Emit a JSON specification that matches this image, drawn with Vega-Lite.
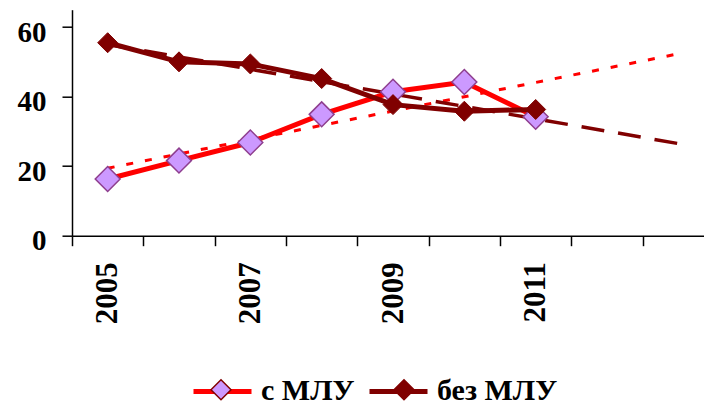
{
  "$schema": "https://vega.github.io/schema/vega-lite/v6.json",
  "width": 632,
  "height": 226,
  "autosize": "none",
  "padding": {"left": 72, "top": 9.7, "right": 0, "bottom": 167.3},
  "background": "white",
  "config": {
    "view": {"stroke": null},
    "font": "Liberation Serif"
  },
  "datasets": {
    "obs": [
      {"year": "2005", "series": "с МЛУ", "value": 16.3},
      {"year": "2006", "series": "с МЛУ", "value": 21.6},
      {"year": "2007", "series": "с МЛУ", "value": 26.8},
      {"year": "2008", "series": "с МЛУ", "value": 34.9},
      {"year": "2009", "series": "с МЛУ", "value": 41.4},
      {"year": "2010", "series": "с МЛУ", "value": 44.2},
      {"year": "2011", "series": "с МЛУ", "value": 34.2},
      {"year": "2005", "series": "без МЛУ", "value": 55.5},
      {"year": "2006", "series": "без МЛУ", "value": 50.0},
      {"year": "2007", "series": "без МЛУ", "value": 49.4},
      {"year": "2008", "series": "без МЛУ", "value": 45.2},
      {"year": "2009", "series": "без МЛУ", "value": 37.7},
      {"year": "2010", "series": "без МЛУ", "value": 35.8},
      {"year": "2011", "series": "без МЛУ", "value": 36.3}
    ],
    "trend": [
      {"year": "2005", "series": "с МЛУ", "value": 19.4},
      {"year": "2013", "series": "с МЛУ", "value": 52.3},
      {"year": "2005", "series": "без МЛУ", "value": 55.0},
      {"year": "2013", "series": "без МЛУ", "value": 26.5}
    ]
  },
  "encoding": {
    "x": {
      "field": "year",
      "type": "ordinal",
      "bandPosition": 0.5,
      "scale": {
        "type": "band",
        "domain": ["2005", "2006", "2007", "2008", "2009", "2010", "2011", "2012", "2013"],
        "paddingInner": 0,
        "paddingOuter": 0,
        "range": [0, 642]
      },
      "axis": {
        "title": null,
        "domainColor": "black",
        "domainWidth": 1.5,
        "tickColor": "black",
        "tickWidth": 1.5,
        "tickSize": 10,
        "tickBand": "extent",
        "labelAngle": 270,
        "labelFont": "Liberation Serif",
        "labelFontSize": 31,
        "labelFontWeight": "bold",
        "labelColor": "black",
        "labelPadding": 16,
        "labelExpr": "indexof(['2005','2007','2009','2011'], datum.label) >= 0 ? datum.label : ''"
      }
    },
    "y": {
      "field": "value",
      "type": "quantitative",
      "scale": {"domain": [0, 65], "nice": false},
      "axis": {
        "title": null,
        "values": [0, 20, 40, 60],
        "grid": false,
        "domainColor": "black",
        "domainWidth": 1.5,
        "tickColor": "black",
        "tickWidth": 1.5,
        "tickSize": 10,
        "labelFont": "Liberation Serif",
        "labelFontSize": 29,
        "labelFontWeight": "bold",
        "labelColor": "black",
        "labelPadding": 16,
        "labelOffset": 5
      }
    }
  },
  "layer": [
    {
      "data": {"name": "trend"},
      "transform": [{"filter": "datum.series === 'с МЛУ'"}],
      "mark": {"type": "line", "strokeWidth": 3, "strokeDash": [7, 12], "color": "#ff0000"},
      "encoding": {}
    },
    {
      "data": {"name": "trend"},
      "transform": [{"filter": "datum.series === 'без МЛУ'"}],
      "mark": {"type": "line", "strokeWidth": 3.5, "strokeDash": [23, 14], "color": "#800000"},
      "encoding": {}
    },
    {
      "data": {"name": "obs"},
      "mark": {"type": "line", "strokeWidth": 5},
      "encoding": {
        "stroke": {
          "field": "series",
          "type": "nominal",
          "scale": {"domain": ["с МЛУ", "без МЛУ"], "range": ["#ff0000", "#800000"]},
          "legend": {
            "title": null,
            "orient": "none",
            "direction": "horizontal",
            "legendX": 119,
            "legendY": 350,
            "padding": 0,
            "symbolType": "stroke",
            "symbolSize": 3364,
            "symbolStrokeWidth": 5,
            "labelFont": "Liberation Serif",
            "labelFontSize": 30,
            "labelFontWeight": "bold",
            "labelColor": "black",
            "labelOffset": 7,
            "columnPadding": 4
          }
        }
      }
    },
    {
      "data": {"name": "obs"},
      "transform": [{"filter": "datum.series === 'с МЛУ'"}],
      "mark": {"type": "point", "shape": "diamond", "filled": true, "size": 620, "opacity": 1, "stroke": "#8e3e8e", "strokeWidth": 1.5},
      "encoding": {
        "fill": {
          "field": "series",
          "type": "nominal",
          "scale": {"domain": ["без МЛУ", "с МЛУ"], "range": ["#800000", "#cc99ff"]},
          "legend": {
            "title": null,
            "orient": "none",
            "direction": "horizontal",
            "values": ["с МЛУ", "без МЛУ"],
            "legendX": 138,
            "legendY": 369,
            "padding": 0,
            "symbolType": "diamond",
            "symbolSize": 400,
            "symbolStrokeColor": "#8e3e8e",
            "symbolStrokeWidth": 1.5,
            "symbolOpacity": 1,
            "labelExpr": "''",
            "labelOffset": 0,
            "columnPadding": 157
          }
        }
      }
    },
    {
      "data": {"name": "obs"},
      "transform": [{"filter": "datum.series === 'без МЛУ'"}],
      "mark": {"type": "point", "shape": "diamond", "filled": true, "size": 400, "opacity": 1, "stroke": "#800000", "strokeWidth": 1},
      "encoding": {
        "fill": {"field": "series", "type": "nominal"}
      }
    }
  ]
}
